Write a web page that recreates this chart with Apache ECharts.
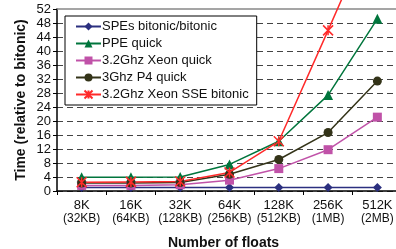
<!DOCTYPE html>
<html>
<head>
<meta charset="utf-8">
<script src="https://cdn.jsdelivr.net/npm/echarts@6/dist/echarts.min.js"></script>
<style>
  html, body { margin: 0; padding: 0; background: #fff; }
  #chart { width: 396px; height: 249px; }
</style>
</head>
<body>
<div id="chart"></div>
<script>
const categories = ['8K', '16K', '32K', '64K', '128K', '256K', '512K']
const sizes = ['(32KB)', '(64KB)', '(128KB)', '(256KB)', '(512KB)', '(1MB)', '(2MB)']

const speBitonic = [1, 1, 1, 1, 1, 1, 1]
const ppeQuick = [3.9, 3.9, 4.0, 7.6, 14.2, 27.4, 49.2]
const xeonQuick = [1.6, 1.6, 1.8, 3.1, 6.4, 11.8, 21.1]
const p4Quick = [2.3, 2.3, 2.4, 4.8, 9.0, 16.7, 31.4]
const xeonSse = [2.5, 2.6, 2.7, 5.3, 14.2, 45.9, 78]

const FONT = '"Liberation Sans", Arial, sans-serif'

// dashed grid, but no dashed line on the top (52) row
const gridColors = []
for (let i = 0; i < 13; i++) gridColors.push('#444')
gridColors.push('transparent')

function mkSeries(name, data, color, symbol, size, extra) {
  return Object.assign({
    name, type: 'line', data,
    symbol, symbolSize: size,
    lineStyle: { color, width: 1.5 },
    itemStyle: { color },
    clip: false,
    animation: false
  }, extra || {})
}

const chart = echarts.init(document.getElementById('chart'), null, { renderer: 'canvas' })
chart.setOption({
  animation: false,
  textStyle: { fontFamily: FONT },
  grid: { left: 57, right: -6, top: 9, bottom: 58, containLabel: false, outerBoundsMode: 'none' },
  legend: {
    orient: 'vertical',
    left: 65, top: 16,
    backgroundColor: '#fff',
    borderColor: '#000', borderWidth: 1,
    padding: [4, 8, 4, 10],
    itemWidth: 25, itemHeight: 10, itemGap: 4,
    textStyle: { fontSize: 13, color: '#111', fontFamily: FONT, padding: [0, 0, 0, -4] },
    data: ['SPEs bitonic/bitonic', 'PPE quick', '3.2Ghz Xeon quick', '3Ghz P4 quick', '3.2Ghz Xeon SSE bitonic']
  },
  xAxis: [{
    type: 'category',
    data: categories,
    boundaryGap: true,
    axisLine: { lineStyle: { color: '#000', width: 1.5 } },
    axisTick: { show: true, length: 4, lineStyle: { color: '#000' } },
    axisLabel: {
      interval: 0,
      margin: 7,
      formatter: (v, i) => '{a|' + v + '}\n{b|' + sizes[i] + '}',
      rich: {
        a: { fontSize: 13, color: '#111', lineHeight: 14, fontFamily: FONT },
        b: { fontSize: 12, color: '#111', lineHeight: 14, fontFamily: FONT }
      }
    },
    name: 'Number of floats',
    nameLocation: 'middle',
    nameGap: 45,
    nameMoveOverlap: false,
    nameTextStyle: { fontSize: 14, fontWeight: 'bold', color: '#111', fontFamily: FONT, padding: [0, 12, 0, 0] }
  }, {
    type: 'category',
    data: categories,
    position: 'top',
    axisLine: { lineStyle: { color: '#888', width: 1.5 } },
    axisTick: { show: false },
    axisLabel: { show: false }
  }],
  yAxis: {
    type: 'value',
    min: 0, max: 52, interval: 4,
    axisLine: { show: true, lineStyle: { color: '#000', width: 1.5 } },
    axisTick: { show: true, length: 4, lineStyle: { color: '#000' } },
    axisLabel: { fontSize: 13, color: '#111', margin: 6, fontFamily: FONT },
    splitLine: { show: true, lineStyle: { color: gridColors, type: [6, 4], width: 1 } },
    name: 'Time (relative to bitonic)',
    nameLocation: 'middle',
    nameGap: 29,
    nameMoveOverlap: false,
    nameTextStyle: { fontSize: 14, fontWeight: 'bold', color: '#111', fontFamily: FONT }
  },
  series: [
    mkSeries('SPEs bitonic/bitonic', speBitonic, '#2b2f7f', 'diamond', 9),
    mkSeries('PPE quick', ppeQuick, '#00753c', 'triangle', 10),
    mkSeries('3.2Ghz Xeon quick', xeonQuick, '#c052a8', 'rect', 9),
    mkSeries('3Ghz P4 quick', p4Quick, '#333318', 'circle', 9),
    mkSeries('3.2Ghz Xeon SSE bitonic', xeonSse, '#ff2a2a',
      'path://M0,0L10,10M10,0L0,10M5,0L5,10', 10,
      { itemStyle: { color: '#ff2a2a', borderColor: '#ff2a2a', borderWidth: 1.5 } })
  ]
})
</script>
</body>
</html>
